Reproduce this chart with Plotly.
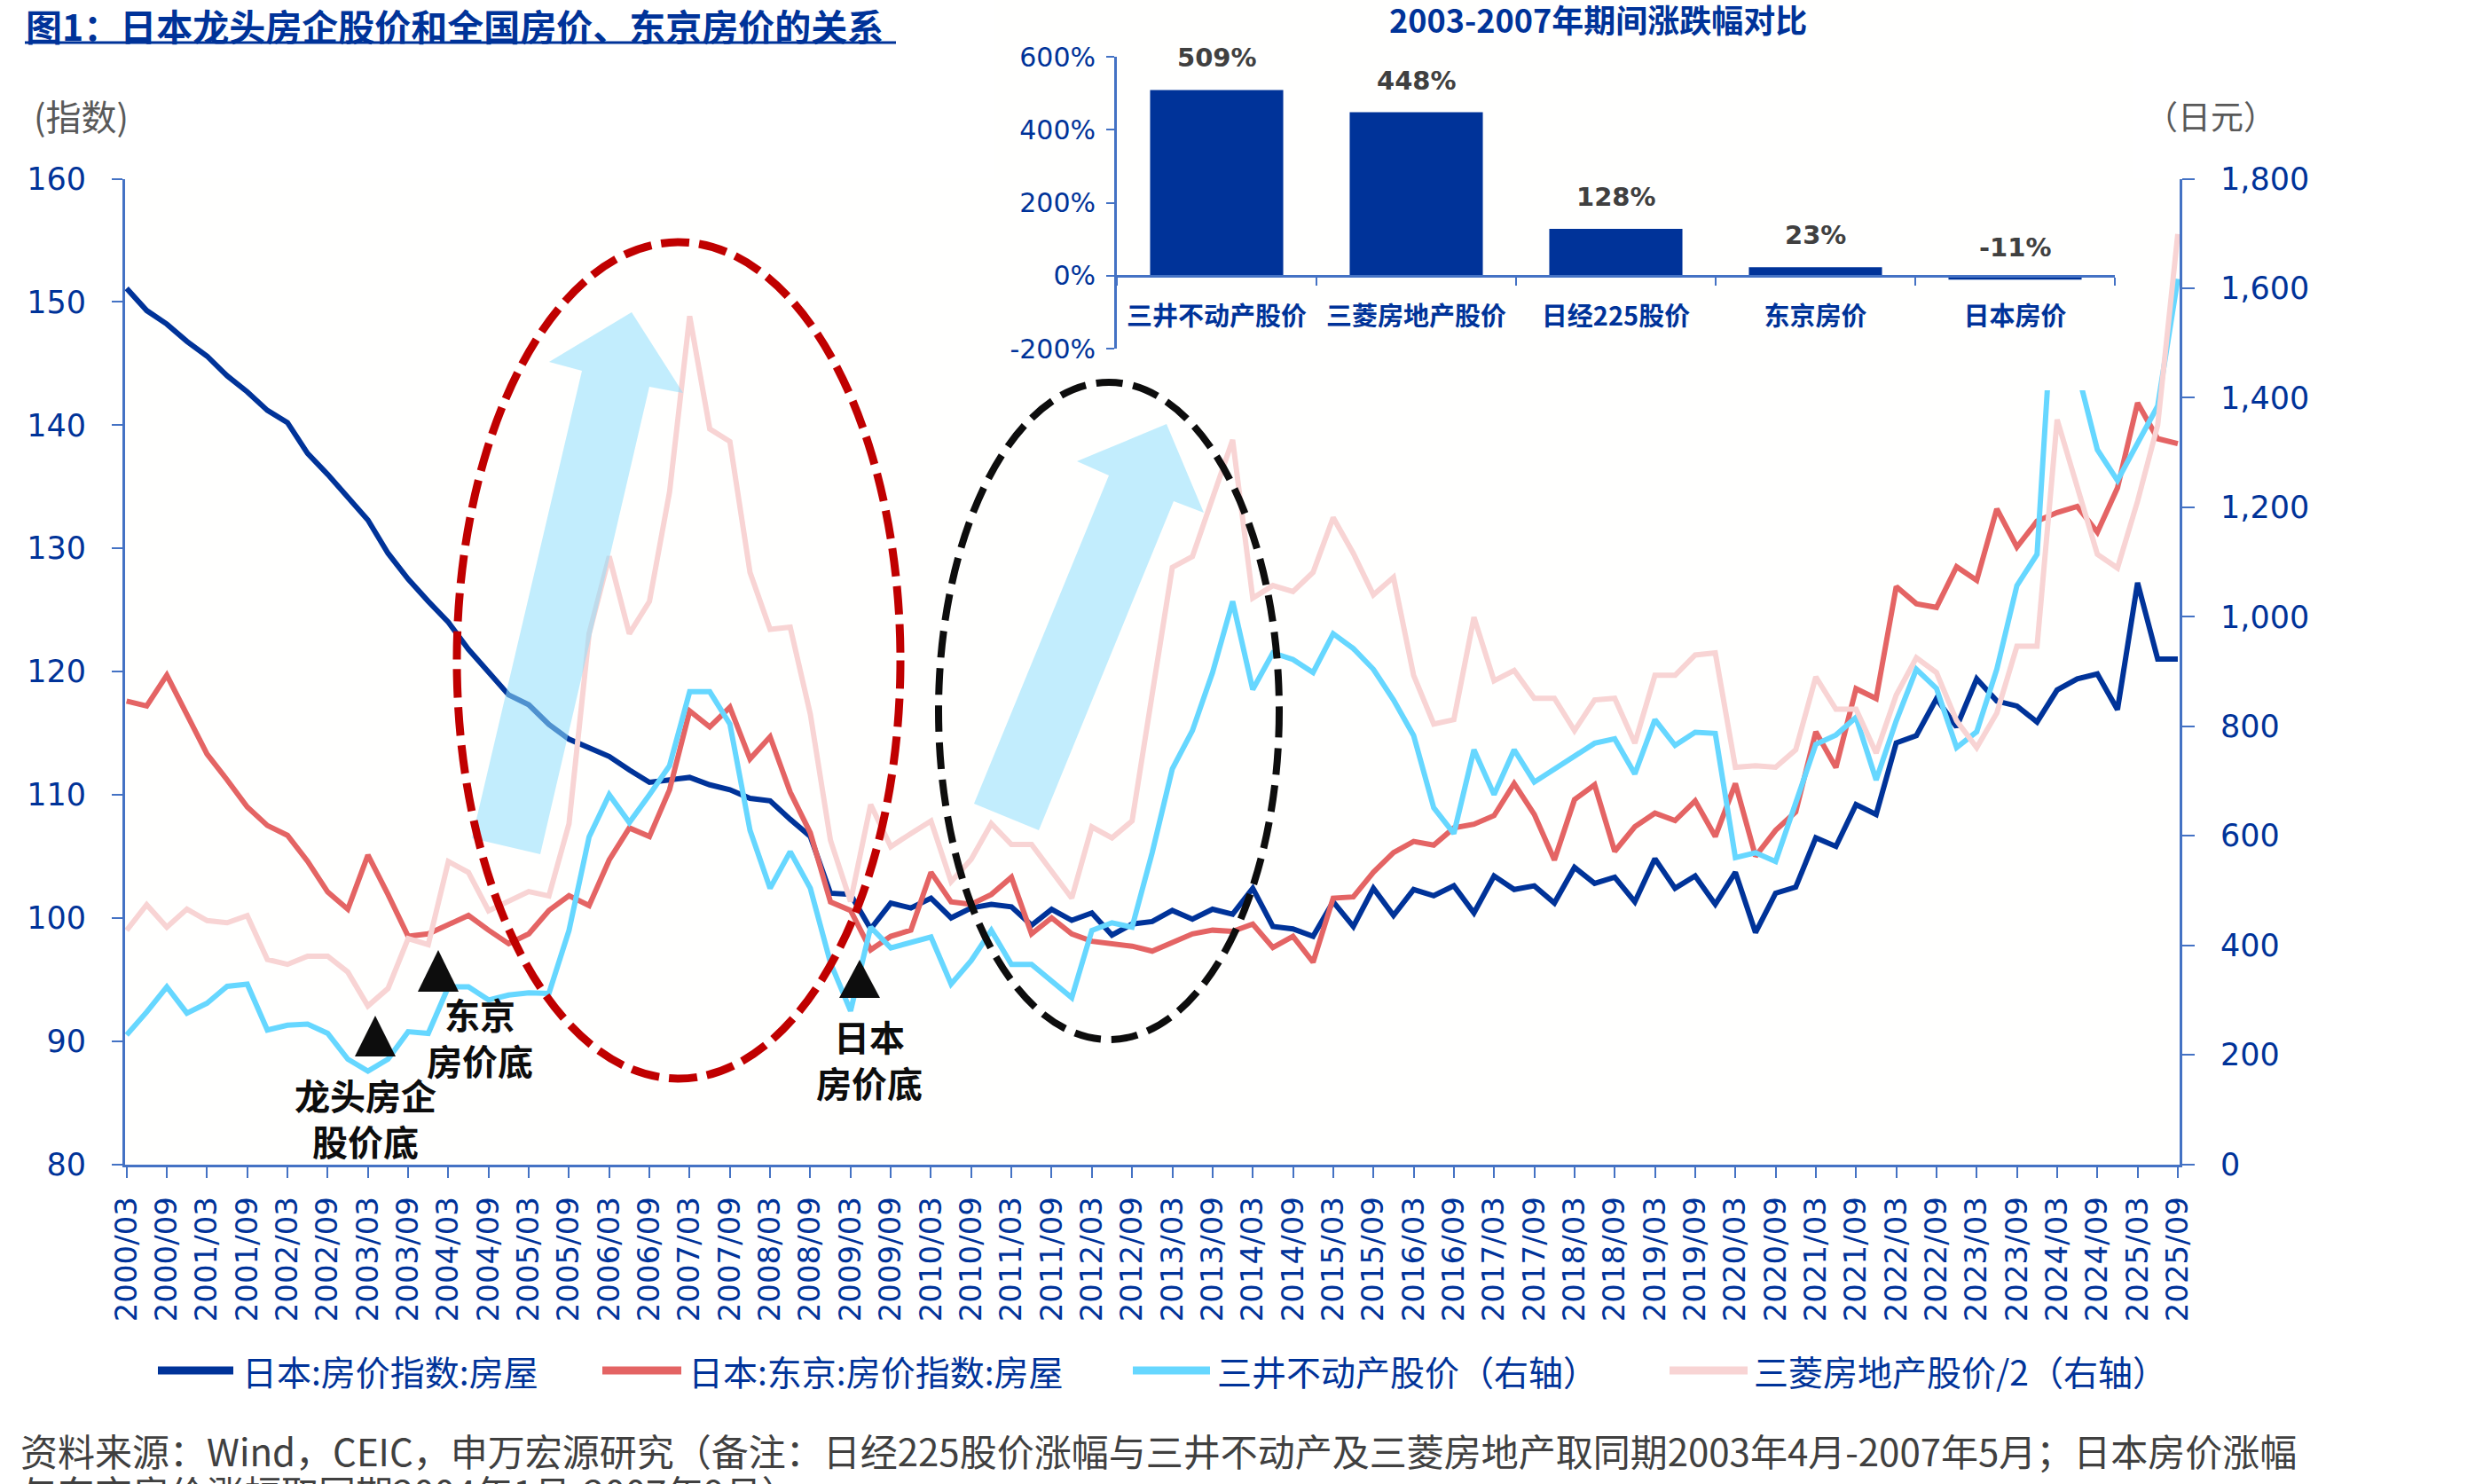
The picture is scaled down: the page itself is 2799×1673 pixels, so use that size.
import plotly.graph_objects as go

W, H = 2799, 1673


def px(x):
    return x / W


def py(y):
    return 1 - y / H


# ---------------- data ----------------
quarters = [f"{y}/{m:02d}" for y in range(2000, 2026) for m in (3, 6, 9, 12)][:103]

japan_hpi = [151.1, 149.3, 148.2, 146.8, 145.6, 144.0, 142.7, 141.2, 140.2, 137.7,
             136.0, 134.1, 132.3, 129.6, 127.5, 125.7, 124.0, 121.8, 119.9, 118.1,
             117.3, 115.7, 114.5, 113.8, 113.1, 112.0, 111.0, 111.2, 111.4, 110.8,
             110.4, 109.7, 109.5, 108.0, 106.6, 102.0, 101.9, 99.1, 101.2, 100.8,
             101.6, 100.0, 100.8, 101.1, 100.9, 99.4, 100.7, 99.8, 100.4, 98.6,
             99.5, 99.7, 100.6, 99.9, 100.7, 100.3, 102.4, 99.3, 99.1, 98.5,
             101.3, 99.3, 102.4, 100.2, 102.3, 101.8, 102.6, 100.4, 103.4, 102.3,
             102.6, 101.2, 104.1, 102.8, 103.3, 101.3, 104.8, 102.4, 103.4, 101.1,
             103.7, 98.8, 102.0, 102.5, 106.5, 105.8, 109.2, 108.4, 114.2, 114.8,
             117.8, 115.5, 119.4, 117.6, 117.2, 115.9, 118.5, 119.4, 119.8, 116.9,
             127.2, 121.0, 121.0]

tokyo_hpi = [117.6, 117.2, 119.7, 116.5, 113.3, 111.2, 109.0, 107.5, 106.7, 104.6,
             102.1, 100.7, 105.1, 101.9, 98.5, 98.7, 99.4, 100.2, 99.0, 97.9,
             98.7, 100.6, 101.8, 101.0, 104.7, 107.3, 106.6, 110.4, 116.8, 115.5,
             117.1, 112.9, 114.7, 110.2, 106.9, 101.3, 100.6, 97.4, 98.5, 99.0,
             103.7, 101.3, 101.1, 101.9, 103.3, 98.7, 100.0, 98.7, 98.1, 97.9,
             97.7, 97.3, 98.0, 98.7, 99.0, 98.9, 99.5, 97.6, 98.5, 96.4,
             101.6, 101.7, 103.7, 105.3, 106.2, 105.9, 107.3, 107.6, 108.3, 110.9,
             108.4, 104.7, 109.6, 110.8, 105.4, 107.4, 108.5, 107.9, 109.5, 106.6,
             110.9, 105.0, 107.1, 108.6, 115.1, 112.2, 118.6, 117.8, 126.9, 125.5,
             125.2, 128.5, 127.4, 133.2, 130.1, 132.2, 132.9, 133.4, 131.3, 134.9,
             141.8, 138.9, 138.5]

mitsui_price = [236, 278, 324, 276, 294, 325, 329, 245, 254, 256,
                239, 192, 170, 192, 242, 239, 324, 324, 300, 309,
                313, 312, 427, 598, 675, 624, 675, 728, 863, 863,
                804, 610, 504, 571, 504, 368, 280, 433, 395, 404,
                415, 329, 372, 427, 365, 365, 335, 304, 427, 441,
                433, 569, 722, 792, 898, 1028, 867, 934, 922, 898,
                969, 942, 904, 848, 783, 651, 604, 757, 675, 757,
                698, 722, 745, 769, 777, 713, 812, 765, 789, 787,
                560, 569, 553, 657, 767, 784, 816, 702, 810, 904,
                869, 761, 790, 904, 1057, 1114, 1700, 1450, 1305, 1249,
                1317, 1385, 1617]

mitsubishi_half = [427, 474, 433, 466, 445, 441, 454, 374, 365, 380,
                   380, 351, 289, 321, 412, 401, 553, 533, 463, 480,
                   498, 490, 622, 969, 1110, 969, 1028, 1228, 1549, 1343,
                   1320, 1081, 977, 981, 822, 592, 480, 657, 580, 604,
                   627, 516, 557, 622, 584, 584, 533, 486, 616, 596,
                   627, 857, 1090, 1110, 1217, 1323, 1034, 1057, 1046, 1081,
                   1181, 1116, 1040, 1072, 893, 804, 812, 999, 883, 902,
                   851, 851, 792, 848, 851, 769, 893, 893, 930, 934,
                   725, 728, 725, 757, 890, 831, 831, 751, 857, 925,
                   898, 810, 761, 824, 946, 946, 1360, 1240, 1114, 1089,
                   1211, 1350, 1699]

series_names = ["日本:房价指数:房屋", "日本:东京:房价指数:房屋",
                "三井不动产股价（右轴）", "三菱房地产股价/2（右轴）"]
series_colors = ["#003399", "#E46464", "#66D7FF", "#F8D4D4"]

bar_cats = ["三井不动产股价", "三菱房地产股价", "日经225股价", "东京房价", "日本房价"]
bar_vals = [509, 448, 128, 23, -11]
inset_ticks = [-200, 0, 200, 400, 600]
inset_tick_text = ["-200%", "0%", "200%", "400%", "600%"]

title_text = "图1：日本龙头房企股价和全国房价、东京房价的关系"
inset_title = "2003-2007年期间涨跌幅对比"
footer_1 = "资料来源：Wind，CEIC，申万宏源研究（备注：日经225股价涨幅与三井不动产及三菱房地产取同期2003年4月-2007年5月；日本房价涨幅"
footer_2 = "与东京房价涨幅取同期2004年1月-2007年9月）"

# ---------------- styling ----------------
NUM = "DejaVu Sans"
CJK = "Noto Sans CJK SC"
AX = "#4472C4"
TXT = "#003399"

fig = go.Figure()

fig.add_trace(go.Scatter(x=quarters, y=japan_hpi, name=series_names[0], mode="lines",
                         line=dict(color=series_colors[0], width=6), xaxis="x", yaxis="y"))
fig.add_trace(go.Scatter(x=quarters, y=tokyo_hpi, name=series_names[1], mode="lines",
                         line=dict(color=series_colors[1], width=6), xaxis="x", yaxis="y"))
fig.add_trace(go.Scatter(x=quarters, y=mitsui_price, name=series_names[2], mode="lines",
                         line=dict(color=series_colors[2], width=6), xaxis="x", yaxis="y2"))
fig.add_trace(go.Scatter(x=quarters, y=mitsubishi_half, name=series_names[3], mode="lines",
                         line=dict(color=series_colors[3], width=6), xaxis="x", yaxis="y2"))

# white backdrop for the inset (separate overlapping subplot)
fig.add_trace(go.Scatter(x=[0.5], y=[0.5], xaxis="x3", yaxis="y3", mode="markers",
                         marker=dict(opacity=0), hoverinfo="skip", showlegend=False))

# inset bars
fig.add_trace(go.Bar(x=bar_cats, y=bar_vals, xaxis="x4", yaxis="y4",
                     marker=dict(color="#003399", line=dict(width=0)), showlegend=False))

tick_common = dict(ticks="outside", tickcolor=AX, tickwidth=2, showline=True, linecolor=AX,
                   linewidth=3, showgrid=False, zeroline=False, automargin=False)

fig.update_layout(
    width=W, height=H,
    margin=dict(l=0, r=0, t=0, b=0),
    paper_bgcolor="#FFFFFF", plot_bgcolor="#FFFFFE",
    showlegend=False, bargap=0.333,
    xaxis=dict(domain=[px(141), px(2457)], type="category", range=[-0.075, 102.09],
               tickvals=quarters[::2], ticktext=quarters[::2], tickangle=-90, ticklen=12,
               tickfont=dict(family=NUM, size=34, color=TXT), ticklabelstandoff=8,
               anchor="y", **tick_common),
    yaxis=dict(domain=[py(1312.5), py(201.5)], range=[80, 160], tickvals=list(range(80, 161, 10)),
               ticklen=12, tickfont=dict(family=NUM, size=35, color=TXT), ticklabelstandoff=22,
               anchor="x", **tick_common),
    yaxis2=dict(overlaying="y", side="right", anchor="x", range=[0, 1800],
                tickvals=list(range(0, 1801, 200)), tickformat=",d", ticklen=14,
                tickfont=dict(family=NUM, size=35, color=TXT), ticklabelstandoff=22, **tick_common),
    xaxis3=dict(domain=[px(1120), px(2405)], anchor="y3", visible=False, range=[0, 1], fixedrange=True),
    yaxis3=dict(domain=[py(440), 1.0], anchor="x3", visible=False, range=[0, 1], fixedrange=True),
    xaxis4=dict(domain=[px(1259), px(2384)], anchor="free", position=py(311), type="category",
                range=[-0.5, 4.5], tickson="boundaries", ticklen=9,
                tickfont=dict(family=CJK, size=29, color=TXT, weight="bold"), ticklabelstandoff=19,
                **tick_common),
    yaxis4=dict(domain=[py(393), py(64)], anchor="x4", range=[-200, 600],
                tickvals=inset_ticks, ticktext=inset_tick_text, ticklen=9,
                tickfont=dict(family=NUM, size=30, color=TXT), ticklabelstandoff=6, **tick_common),
)

# ---------------- shapes ----------------
shapes = []


def poly(points):
    return "M " + " L ".join(f"{px(x):.5f},{py(y):.5f}" for x, y in points) + " Z"


arrow_fill = "rgba(143,222,252,0.55)"
arrow1 = [(532, 945), (609, 963), (732, 436), (770, 443), (712, 352), (619, 408), (656, 418)]
arrow2 = [(1098, 906), (1171, 936), (1323, 565), (1357, 578), (1315, 478), (1214, 520), (1250, 536)]
for a in (arrow1, arrow2):
    shapes.append(dict(type="path", xref="paper", yref="paper", path=poly(a),
                       fillcolor=arrow_fill, line=dict(width=0), layer="above"))

shapes.append(dict(type="circle", xref="paper", yref="paper",
                   x0=px(515), x1=px(1015), y0=py(1216), y1=py(273),
                   line=dict(color="#C00000", width=9, dash="32px,11px"), layer="above"))
shapes.append(dict(type="circle", xref="paper", yref="paper",
                   x0=px(1058), x1=px(1442), y0=py(1172), y1=py(431),
                   line=dict(color="#0D0D0D", width=8, dash="30px,12px"), layer="above"))

for cx, ya, yb in [(423, 1145, 1191), (494, 1071, 1118), (969, 1082, 1125)]:
    shapes.append(dict(type="path", xref="paper", yref="paper",
                       path=poly([(cx - 23, yb), (cx + 23, yb), (cx, ya)]),
                       fillcolor="#0D0D0D", line=dict(width=0), layer="above"))

# title underline
shapes.append(dict(type="line", xref="paper", yref="paper", x0=px(28), x1=px(1010),
                   y0=py(48), y1=py(48), line=dict(color=TXT, width=3), layer="above"))

# custom legend
legend_pos = [(178, 263, 272), (679, 768, 775), (1277, 1364, 1371), (1882, 1970, 1976)]
for (x0, x1, _), col in zip(legend_pos, series_colors):
    shapes.append(dict(type="line", xref="paper", yref="paper", x0=px(x0), x1=px(x1),
                       y0=py(1545), y1=py(1545), line=dict(color=col, width=9), layer="above"))

fig.update_layout(shapes=shapes)

# ---------------- annotations ----------------
anns = []


def ann(text, x, y, size, color, bold=False, xanchor="center", yanchor="middle", family=CJK):
    anns.append(dict(text=text, x=px(x), y=py(y), xref="paper", yref="paper", showarrow=False,
                     xanchor=xanchor, yanchor=yanchor, borderpad=0,
                     font=dict(size=size, color=color, family=family,
                               weight="bold" if bold else "normal")))


ann(title_text, 28, 28, 41, TXT, bold=True, xanchor="left")
ann(inset_title, 1801, 21, 36, TXT, bold=True)
ann("(指数)", 91, 130, 40, "#595959")
ann("（日元）", 2492, 130, 37, "#595959")

ann("龙头房企<br>股价底", 412, 1260, 40, "#0D0D0D", bold=True)
ann("东京<br>房价底", 541, 1169, 40, "#0D0D0D", bold=True)
ann("日本<br>房价底", 980, 1194, 40, "#0D0D0D", bold=True)

for (_, _, tx), name in zip(legend_pos, series_names):
    ann(name, tx, 1545, 39, TXT, xanchor="left")

ann(footer_1, 22, 1634, 42, "#404040", xanchor="left")
ann(footer_2, 22, 1681, 42, "#404040", xanchor="left")

for c, v in zip(bar_cats, bar_vals):
    anns.append(dict(text=f"{v}%", x=c, y=v, xref="x4", yref="y4", showarrow=False,
                     yshift=36, xanchor="center", yanchor="middle",
                     font=dict(size=29, color="#404040", family=NUM, weight="bold")))

fig.update_layout(annotations=anns)

fig.write_html("out.html")
